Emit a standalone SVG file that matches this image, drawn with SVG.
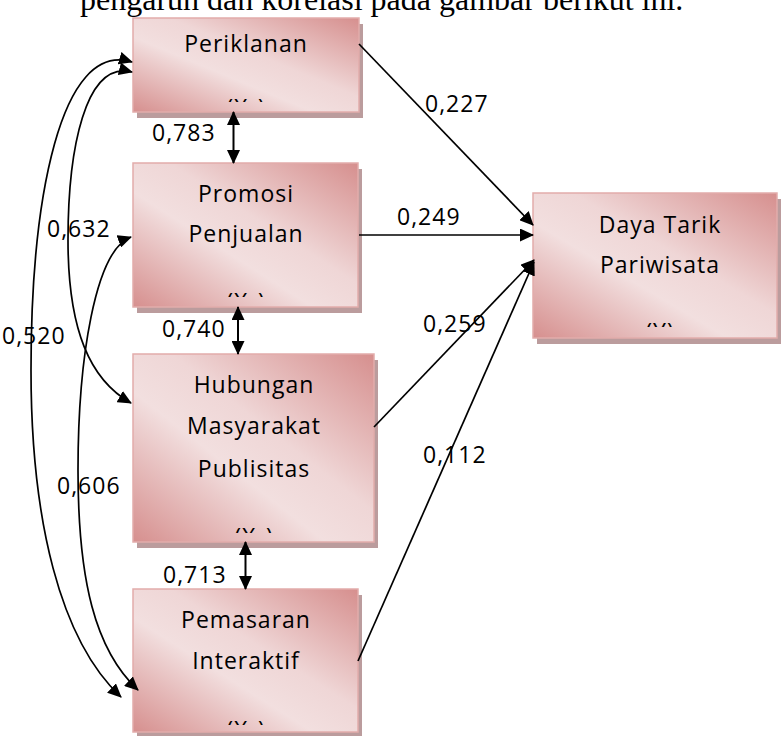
<svg xmlns="http://www.w3.org/2000/svg" width="781" height="736" viewBox="0 0 781 736">
<defs>
<linearGradient id="fill" x1="1" y1="0" x2="0" y2="1">
<stop offset="0" stop-color="#d68f8e"/>
<stop offset="0.42" stop-color="#efd6d6"/>
<stop offset="0.6" stop-color="#f2dfdf"/>
<stop offset="1" stop-color="#d68f8e"/>
</linearGradient>
<marker id="ah" viewBox="0 0 14 13" refX="13" refY="6.5" markerWidth="14" markerHeight="13" orient="auto-start-reverse" markerUnits="userSpaceOnUse">
<path d="M0,0 L14,6.5 L0,13 z" fill="#000"/>
</marker>
<clipPath id="c1"><rect x="133" y="18" width="226" height="84"/></clipPath>
<clipPath id="c2"><rect x="133" y="163" width="225" height="134"/></clipPath>
<clipPath id="c3"><rect x="133" y="354" width="241" height="179"/></clipPath>
<clipPath id="c4"><rect x="133" y="589" width="225" height="136"/></clipPath>
<clipPath id="c5"><rect x="533" y="193" width="248" height="134"/></clipPath>
</defs>
<style>
.shadow{fill:#bb9c9d}
.box{fill:url(#fill);stroke:#e2acab;stroke-width:1.5}
.t{font-family:"Open Sans","Noto Sans",sans-serif;font-size:23px;letter-spacing:1px;fill:#000;text-anchor:middle}
.lbl{font-family:"Open Sans","Noto Sans",sans-serif;font-size:23px;letter-spacing:1px;fill:#000}
.ln{fill:none;stroke:#000;stroke-width:1.7}
.dbl{fill:none;stroke:#000;stroke-width:2;marker-start:url(#ah);marker-end:url(#ah)}
.one{marker-end:url(#ah)}
.two{marker-start:url(#ah);marker-end:url(#ah)}
.head{font-family:"Liberation Serif","Times New Roman",serif;font-size:32px;fill:#000}
</style>
<text class="head" x="80" y="10">pengaruh dan korelasi pada gambar berikut ini.</text>

<g id="n1">
<rect class="shadow" x="137" y="24" width="226" height="94"/>
<rect class="box" x="133" y="18" width="226" height="94"/>
<text class="t" x="246" y="52">Periklanan</text>
<text class="t" x="246" y="116" clip-path="url(#c1)">(X<tspan font-size="15">1</tspan>)</text>
</g>
<g id="n2">
<rect class="shadow" x="137" y="169" width="225" height="144"/>
<rect class="box" x="133" y="163" width="225" height="144"/>
<text class="t" x="246" y="202">Promosi</text>
<text class="t" x="246" y="242">Penjualan</text>
<text class="t" x="246" y="310" clip-path="url(#c2)">(X<tspan font-size="15">2</tspan>)</text>
</g>
<g id="n3">
<rect class="shadow" x="137" y="360" width="241" height="188"/>
<rect class="box" x="133" y="354" width="241" height="188"/>
<text class="t" x="254" y="393">Hubungan</text>
<text class="t" x="254" y="434">Masyarakat</text>
<text class="t" x="254" y="477">Publisitas</text>
<text class="t" x="254" y="545" clip-path="url(#c3)">(X<tspan font-size="15">3</tspan>)</text>
</g>
<g id="n4">
<rect class="shadow" x="137" y="595" width="225" height="143"/>
<rect class="box" x="133" y="589" width="225" height="143"/>
<text class="t" x="246" y="628">Pemasaran</text>
<text class="t" x="246" y="669">Interaktif</text>
<text class="t" x="246" y="738" clip-path="url(#c4)">(X<tspan font-size="15">4</tspan>)</text>
</g>
<g id="n5">
<rect class="shadow" x="537" y="199" width="244" height="145"/>
<rect class="box" x="533" y="193" width="244" height="145"/>
<text class="t" x="660" y="233">Daya Tarik</text>
<text class="t" x="660" y="273">Pariwisata</text>
<text class="t" x="660" y="340" clip-path="url(#c5)">(Y)</text>
</g>

<g id="connectors">
<line class="ln one" x1="359" y1="44" x2="533" y2="225"/>
<line class="ln one" x1="359" y1="235" x2="533" y2="235"/>
<line class="ln one" x1="374" y1="427" x2="534" y2="260"/>
<line class="ln one" x1="358" y1="661" x2="534" y2="262"/>
<line class="dbl" x1="233.5" y1="112" x2="233.5" y2="163"/>
<line class="dbl" x1="238" y1="307" x2="238" y2="354"/>
<line class="dbl" x1="245.5" y1="542" x2="245.5" y2="589"/>
<path class="ln two" d="M132,62 C60,40 31,200 31,370 C31,520 60,640 121,697"/>
<path class="ln two" d="M132,72 C85,60 68,150 68,240 C68,330 90,380 131,403"/>
<path class="ln two" d="M131,237 C95,250 78,360 78,470 C78,580 95,650 138,690"/>
</g>

<g id="labels">
<text class="lbl" x="425" y="112">0,227</text>
<text class="lbl" x="397" y="225">0,249</text>
<text class="lbl" x="423" y="332">0,259</text>
<text class="lbl" x="423" y="463">0,112</text>
<text class="lbl" x="152" y="141">0,783</text>
<text class="lbl" x="162" y="337">0,740</text>
<text class="lbl" x="163" y="583">0,713</text>
<text class="lbl" x="47" y="237">0,632</text>
<text class="lbl" x="2" y="344">0,520</text>
<text class="lbl" x="57" y="494">0,606</text>
</g>
</svg>
